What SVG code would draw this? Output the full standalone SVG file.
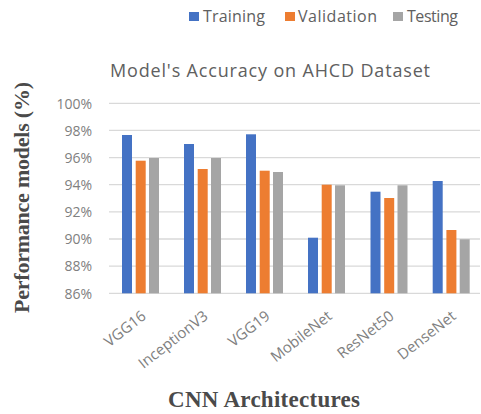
<svg xmlns="http://www.w3.org/2000/svg" width="481" height="414" viewBox="0 0 481 414">
<style>
.grid{stroke:#d9d9d9;stroke-width:1.3}
.tick{font-family:"Open Sans","Liberation Sans",sans-serif;font-size:14px;fill:#808080;text-anchor:end}
.cat{font-family:"Open Sans","Liberation Sans",sans-serif;font-size:15px;fill:#808080;text-anchor:end}
.leg{font-family:"Open Sans","Liberation Sans",sans-serif;font-size:16px;fill:#606060}
.ttl{font-family:"Open Sans","Liberation Sans",sans-serif;font-size:18px;fill:#606060;text-anchor:middle}
.ax{font-family:"Liberation Serif","Times New Roman",serif;font-weight:bold;fill:#4a4a4a;text-anchor:middle}
.b{fill:#4472c4}.o{fill:#ed7d31}.g{fill:#a5a5a5}
</style>
<rect width="481" height="414" fill="#fff"/>
<g id="legend">
<rect x="189" y="12" width="10" height="9" class="b"/><text x="203" y="22" class="leg" textLength="62">Training</text>
<rect x="285" y="12" width="10" height="9" class="o"/><text x="298" y="22" class="leg" textLength="79">Validation</text>
<rect x="393" y="12" width="10" height="9" class="g"/><text x="407" y="22" class="leg" textLength="51">Testing</text>
</g>
<text id="title" x="270" y="77" class="ttl" textLength="320">Model's Accuracy on AHCD Dataset</text>
<g id="gridlines">
<line x1="109" y1="103.3" x2="480" y2="103.3" class="grid"/>
<line x1="109" y1="130.4" x2="480" y2="130.4" class="grid"/>
<line x1="109" y1="157.6" x2="480" y2="157.6" class="grid"/>
<line x1="109" y1="184.7" x2="480" y2="184.7" class="grid"/>
<line x1="109" y1="211.9" x2="480" y2="211.9" class="grid"/>
<line x1="109" y1="239" x2="480" y2="239" class="grid"/>
<line x1="109" y1="266.1" x2="480" y2="266.1" class="grid"/>
<line x1="109" y1="293.3" x2="480" y2="293.3" class="grid"/>
</g>
<g id="yticks">
<text x="92" y="108.5" class="tick">100%</text>
<text x="92" y="135.6" class="tick">98%</text>
<text x="92" y="162.8" class="tick">96%</text>
<text x="92" y="189.9" class="tick">94%</text>
<text x="92" y="217.1" class="tick">92%</text>
<text x="92" y="244.2" class="tick">90%</text>
<text x="92" y="271.3" class="tick">88%</text>
<text x="92" y="298.5" class="tick">86%</text>
</g>
<g id="bars">
<g id="VGG16"><rect x="122" y="135" width="10" height="158.3" class="b"/><rect x="135.7" y="160.7" width="10" height="132.6" class="o"/><rect x="149" y="158" width="10" height="135.3" class="g"/></g>
<g id="InceptionV3"><rect x="184" y="144" width="10" height="149.3" class="b"/><rect x="197.7" y="169" width="10" height="124.3" class="o"/><rect x="211" y="158" width="10" height="135.3" class="g"/></g>
<g id="VGG19"><rect x="246" y="134.3" width="10" height="159" class="b"/><rect x="259.7" y="170.7" width="10" height="122.6" class="o"/><rect x="273" y="172" width="10" height="121.3" class="g"/></g>
<g id="MobileNet"><rect x="308" y="237.7" width="10" height="55.6" class="b"/><rect x="321.7" y="184.7" width="10" height="108.6" class="o"/><rect x="335" y="185.3" width="10" height="108" class="g"/></g>
<g id="ResNet50"><rect x="370.5" y="191.7" width="10" height="101.6" class="b"/><rect x="384.2" y="198" width="10" height="95.3" class="o"/><rect x="397.5" y="185.3" width="10" height="108" class="g"/></g>
<g id="DenseNet"><rect x="432.7" y="181" width="10" height="112.3" class="b"/><rect x="446.4" y="230" width="10" height="63.3" class="o"/><rect x="459.7" y="239.3" width="10" height="54" class="g"/></g>
</g>
<g id="categories">
<text class="cat" transform="translate(147,318) rotate(-38)">VGG16</text>
<text class="cat" transform="translate(209,318) rotate(-38)">InceptionV3</text>
<text class="cat" transform="translate(271,318) rotate(-38)">VGG19</text>
<text class="cat" transform="translate(333,318) rotate(-38)">MobileNet</text>
<text class="cat" transform="translate(395,318) rotate(-38)">ResNet50</text>
<text class="cat" transform="translate(457,318) rotate(-38)">DenseNet</text>
</g>
<text id="xtitle" x="264" y="407" class="ax" font-size="23" textLength="192">CNN Architectures</text>
<text id="ytitle" class="ax" font-size="22" textLength="231" transform="translate(28.5,197.5) rotate(-90)">Performance models (%)</text>
</svg>
